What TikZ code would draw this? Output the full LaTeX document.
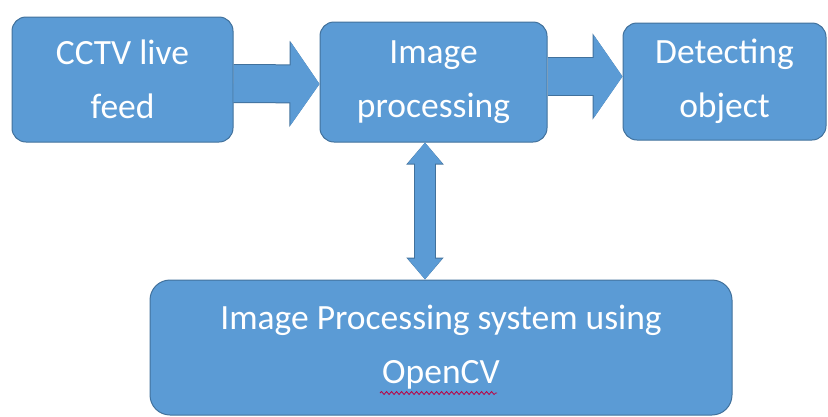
\documentclass[tikz,border=0pt]{standalone}
\usepackage{fontspec}
\setmainfont{Carlito}
\usetikzlibrary{arrows.meta, decorations.pathmorphing}
\definecolor{boxblue}{HTML}{5B9BD5}
\definecolor{boxline}{HTML}{41719C}

\begin{document}
\begin{tikzpicture}[x=1pt, y=-1pt,
    block/.style={draw=boxline, fill=boxblue, line width=1pt, rounded corners=14pt,
      text=white, align=center, inner sep=0pt, font=\fontsize{35.5}{54}\selectfont},
    bigarrow/.style={draw=boxblue, line width=37pt, -{Triangle[length=29pt, width=82pt]},
      preaction={draw=boxline, line width=39pt, -{Triangle[length=30pt, width=85pt]}}}]
  \useasboundingbox (0, 0) rectangle (828, 416);
  % the four boxes
  \node [block, minimum width=221pt, minimum height=125pt] (feed) at (122.5, 79.5) {CCTV live\\feed};
  \node [block, minimum width=227pt, minimum height=120pt] (proc) at (433.5, 82) {Image\\processing};
  \node [block, minimum width=203pt, minimum height=117pt] (detect) at (724.5, 81.5) {Detecting\\object};
  \node [block, rounded corners=20pt, minimum width=582pt, minimum height=135pt] (opencv) at (441, 347.5)
    {Image Processing system using\\OpenCV};
  % arrows
  \draw [bigarrow] ([yshift=-4pt]feed.east) -- ([yshift=-2pt]proc.west);
  \draw [bigarrow] ([yshift=5.5pt]proc.east) -- ([yshift=5pt]detect.west);
  \draw [boxblue, line width=20pt, {Triangle[length=21pt, width=33pt]}-{Triangle[length=21pt, width=33pt]},
    preaction={draw=boxline, line width=22pt, {Triangle[length=22pt, width=36pt]}-{Triangle[length=22pt, width=36pt]}}]
    ([xshift=-8.5pt]proc.south) -- ([xshift=-8.5pt]proc.south |- opencv.north);
  % spell check mark
  \draw [red!75!blue, line width=0.8pt, decorate, decoration={snake, amplitude=1.5pt, segment length=5pt}]
    (380, 393) -- (497, 393);
\end{tikzpicture}
\end{document}
